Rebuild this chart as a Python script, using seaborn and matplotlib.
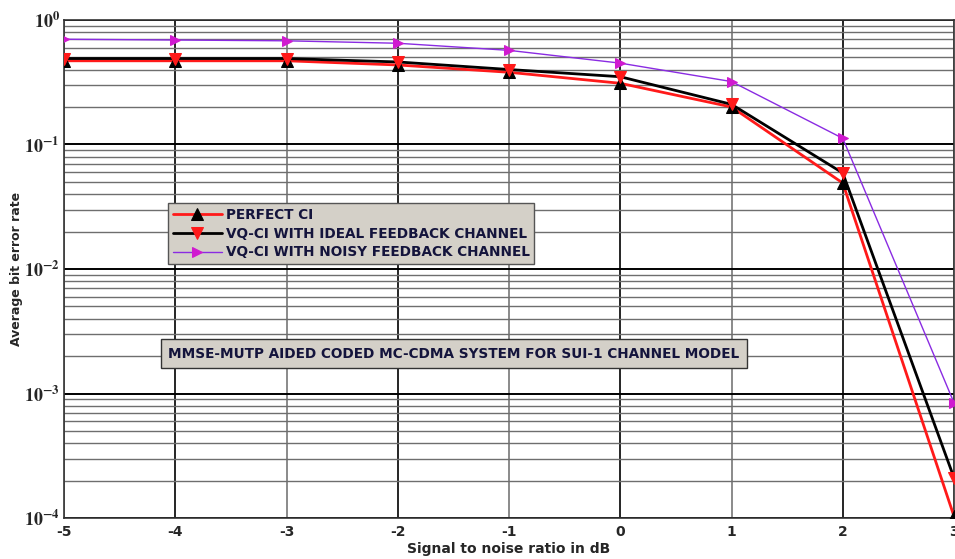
import numpy as np
import matplotlib
matplotlib.use("Agg")
import matplotlib.pyplot as plt
import seaborn as sns
from matplotlib.ticker import LogLocator, FixedLocator, NullFormatter

snr_db = [-5, -4, -3, -2, -1, 0, 1, 2, 3]
perfect_ci = [0.47, 0.47, 0.47, 0.435, 0.38, 0.31, 0.20, 0.049, 1.03e-4]
vq_ideal = [0.49, 0.49, 0.49, 0.46, 0.40, 0.35, 0.21, 0.059, 2.1e-4]
vq_noisy = [0.70, 0.69, 0.68, 0.65, 0.57, 0.45, 0.32, 0.112, 8.4e-4]
labels = ["PERFECT CI", "VQ-CI WITH IDEAL FEEDBACK CHANNEL", "VQ-CI WITH NOISY FEEDBACK CHANNEL"]
x_ticks = [-5, -4, -3, -2, -1, 0, 1, 2, 3]
y_ticks = [1e-4, 1e-3, 1e-2, 1e-1, 1e0]
y_ticklabels = [r"$\mathbf{10^{-4}}$", r"$\mathbf{10^{-3}}$", r"$\mathbf{10^{-2}}$",
                r"$\mathbf{10^{-1}}$", r"$\mathbf{10^{0}}$"]
note = "MMSE-MUTP AIDED CODED MC-CDMA SYSTEM FOR SUI-1 CHANNEL MODEL"

sns.set_style("white")
plt.rcParams["font.family"] = ["DejaVu Sans"]
plt.rcParams["mathtext.fontset"] = "stix"

fig = plt.figure(figsize=(9.55, 5.59), dpi=100)
ax = fig.add_axes([0.067, 0.0733, 0.932, 0.891])

ax.set_yscale("log")
ax.set_xlim(-5, 3)
ax.set_ylim(1e-4, 1e0)

# grid
ax.yaxis.set_major_locator(FixedLocator(y_ticks))
ax.yaxis.set_minor_locator(LogLocator(base=10, subs=np.arange(2, 10)))
ax.yaxis.set_minor_formatter(NullFormatter())
ax.set_yticklabels(y_ticklabels)
ax.set_xticks(x_ticks)
ax.set_xticklabels([str(v) for v in x_ticks])
ax.grid(True, which="major", axis="y", color="black", linewidth=1.4)
ax.grid(True, which="minor", axis="y", color="#6e6e6e", linewidth=1.0)
ax.grid(True, which="major", axis="x", color="black", linewidth=1.2)
for v, gl in zip(x_ticks, ax.xaxis.get_gridlines()):
    if v % 2 != 0:
        gl.set_color("#777777")
ax.set_axisbelow(True)

sns.lineplot(x=snr_db, y=perfect_ci, ax=ax, color="#ff1a1a", linewidth=2.0,
             marker="^", markersize=8, markerfacecolor="black", markeredgecolor="black",
             label=labels[0], zorder=4)
sns.lineplot(x=snr_db, y=vq_ideal, ax=ax, color="black", linewidth=2.0,
             marker="v", markersize=9, markerfacecolor="#ff1a1a", markeredgecolor="#ff1a1a",
             label=labels[1], zorder=5)
sns.lineplot(x=snr_db, y=vq_noisy, ax=ax, color="#8a2be2", linewidth=1.0,
             marker=">", markersize=7, markerfacecolor="#d01ad0", markeredgecolor="#d01ad0",
             label=labels[2], zorder=3)

for s in ax.spines.values():
    s.set_color("#333333")
    s.set_linewidth(1.2)

ax.tick_params(axis="both", which="both", length=0)
ax.tick_params(axis="y", labelsize=13, pad=3)
ax.tick_params(axis="x", labelsize=10, pad=5)
for t in ax.get_xticklabels():
    t.set_fontweight("bold")

ax.set_xlabel("Signal to noise ratio in dB", fontsize=10, fontweight="bold", labelpad=2)
ax.set_ylabel("Average bit error rate", fontsize=9, fontweight="bold")
ax.yaxis.set_label_coords(-0.046, 0.5)

leg = ax.legend(loc="upper left", bbox_to_anchor=(0.1167, 0.6325), borderaxespad=0,
                fancybox=False, framealpha=1, facecolor="#d4d0c8", edgecolor="#555555",
                prop={"weight": "bold", "size": 9.8}, handlelength=3.6, labelspacing=0.35,
                handletextpad=0.3, borderpad=0.35)
for t in leg.get_texts():
    t.set_color("#14143c")

ax.text(0.4377, 0.330, note, transform=ax.transAxes, ha="center", va="center",
        fontsize=9.8, fontweight="bold", color="#14143c", zorder=6,
        bbox=dict(boxstyle="square,pad=0.55", facecolor="#d4d0c8", edgecolor="#333333", linewidth=1.0))

fig.savefig("out.png", dpi=100)
